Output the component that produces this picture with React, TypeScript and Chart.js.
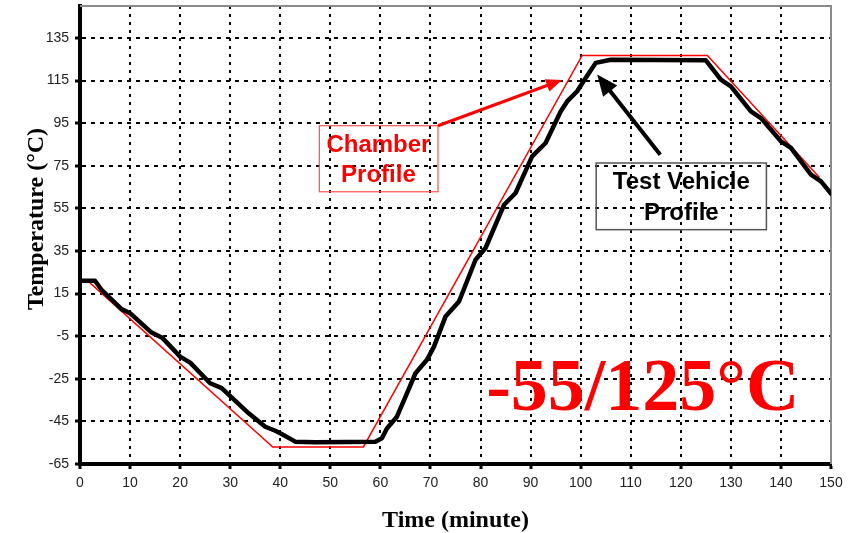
import React, { useEffect, useRef } from 'react';
import { Chart, registerables } from 'chart.js';

Chart.register(...registerables);

// ---- data ----
const xTickValues = [0, 10, 20, 30, 40, 50, 60, 70, 80, 90, 100, 110, 120, 130, 140, 150];
const yTickValues = [-65, -45, -25, -5, 15, 35, 55, 75, 95, 115, 135];

const chamberTime = [2, 38.5, 56.6, 100.3, 125.3, 147.7];
const chamberTemp = [20, -57, -57, 126.8, 126.8, 69.5];

const vehicleTime = [
  0, 3, 4.3, 8.3, 10, 14.3, 16.5, 20, 22, 26, 28.3, 33.7, 37, 39, 40, 43, 47, 59, 60.3, 61.3,
  63.3, 65.3, 67, 69.3, 70.7, 73, 75.7, 79, 81, 84.7, 87, 90.3, 93, 96, 97.3, 99.3, 101, 103,
  106, 115, 125, 128, 130, 134, 136, 140, 142, 146, 148, 150,
];
const vehicleTemp = [
  21, 21, 16.8, 7.7, 5.8, -3.3, -5.9, -14.6, -17.4, -27.1, -29.4, -41.2, -47.5, -49.4, -50.6,
  -54.5, -54.8, -54.5, -52.9, -48.3, -42.8, -31.8, -22.4, -16.1, -9.9, 4.2, 11.3, 30.9, 36.4,
  56.7, 62.2, 79.4, 85.7, 100.5, 105.2, 110, 116.2, 123.3, 124.8, 124.6, 124.5, 115.4, 112.3,
  100.5, 97.4, 86.5, 83.4, 70.8, 67.7, 62,
];

const xTitle = 'Time (minute)';
const yTitle = 'Temperature (°C)';
const cycleLabel = '-55/125°C';
const chamberLabel = ['Chamber', 'Profile'];
const vehicleLabel = ['Test Vehicle', 'Profile'];

const SANS = "'Liberation Sans', Arial, sans-serif";
const SERIF = "'Liberation Serif', 'Times New Roman', serif";

function drawArrow(
  ctx: CanvasRenderingContext2D,
  x1: number, y1: number, x2: number, y2: number,
  color: string, width: number, headLen: number, headW: number,
) {
  const ang = Math.atan2(y2 - y1, x2 - x1);
  const bx = x2 - headLen * Math.cos(ang);
  const by = y2 - headLen * Math.sin(ang);
  ctx.save();
  ctx.strokeStyle = color;
  ctx.lineWidth = width;
  ctx.beginPath();
  ctx.moveTo(x1, y1);
  ctx.lineTo(bx + 2 * Math.cos(ang), by + 2 * Math.sin(ang));
  ctx.stroke();
  ctx.fillStyle = color;
  ctx.beginPath();
  ctx.moveTo(x2, y2);
  ctx.lineTo(bx + (headW / 2) * Math.sin(ang), by - (headW / 2) * Math.cos(ang));
  ctx.lineTo(bx - (headW / 2) * Math.sin(ang), by + (headW / 2) * Math.cos(ang));
  ctx.closePath();
  ctx.fill();
  ctx.restore();
}

const framePlugin = {
  id: 'frame',
  beforeDatasetsDraw(chart: any) {
    const { ctx, chartArea } = chart;
    ctx.save();
    ctx.strokeStyle = '#8a8a8a';
    ctx.lineWidth = 2;
    ctx.beginPath();
    ctx.moveTo(chartArea.left, chartArea.top);
    ctx.lineTo(chartArea.right, chartArea.top);
    ctx.lineTo(chartArea.right, chartArea.bottom);
    ctx.stroke();
    ctx.restore();
  },
};

const annotationPlugin = {
  id: 'annotations',
  afterDraw(chart: any) {
    const { ctx, chartArea } = chart;
    const xs = chart.scales.x;
    const ys = chart.scales.y;
    const px = (v: number) => xs.getPixelForValue(v);
    const py = (v: number) => ys.getPixelForValue(v);

    ctx.save();
    // Chamber profile box
    ctx.strokeStyle = '#ff5050';
    ctx.lineWidth = 1.2;
    ctx.strokeRect(px(47.8), py(93.8), px(71.5) - px(47.8), py(62.8) - py(93.8));
    ctx.fillStyle = '#ff0000';
    ctx.font = `bold 24px ${SANS}`;
    ctx.textAlign = 'center';
    ctx.textBaseline = 'alphabetic';
    ctx.fillText(chamberLabel[0], px(59.6), py(81.6));
    ctx.fillText(chamberLabel[1], px(59.6), py(67.2));
    drawArrow(ctx, px(71.5), py(93.8), px(96.3), py(115.3), '#ff0000', 3, 16, 13);

    // Test vehicle box
    ctx.strokeStyle = '#555555';
    ctx.lineWidth = 1.5;
    ctx.strokeRect(px(103.1), py(76.3), px(137.1) - px(103.1), py(45) - py(76.3));
    ctx.fillStyle = '#000000';
    ctx.font = `bold 24px ${SANS}`;
    ctx.fillText(vehicleLabel[0], px(120.1), py(64.1));
    ctx.fillText(vehicleLabel[1], px(120.1), py(49.7));
    drawArrow(ctx, px(115.9), py(80.2), px(103.3), py(117.8), '#000000', 4, 21, 18);

    // Big cycle label
    ctx.fillStyle = '#ff0000';
    ctx.font = `bold 74px ${SERIF}`;
    ctx.fillText(cycleLabel, px(112.4), py(-39.6));

    // Axis titles
    ctx.fillStyle = '#000000';
    ctx.font = `bold 24px ${SERIF}`;
    ctx.fillText(xTitle, (chartArea.left + chartArea.right) / 2, chart.height - 6);
    ctx.translate(43, 219);
    ctx.rotate(-Math.PI / 2);
    ctx.fillText(yTitle, 0, 0);
    ctx.restore();
  },
};

export default function App() {
  const canvasRef = useRef<HTMLCanvasElement | null>(null);

  useEffect(() => {
    if (!canvasRef.current) return;
    const chart = new Chart(canvasRef.current, {
      type: 'line',
      data: {
        datasets: [
          {
            label: 'Test Vehicle Profile',
            data: vehicleTime.map((t, i) => ({ x: t, y: vehicleTemp[i] })),
            borderColor: '#000000',
            borderWidth: 4.5,
            pointRadius: 0,
            tension: 0,
            borderJoinStyle: 'round',
            borderCapStyle: 'round',
            fill: false,
          },
          {
            label: 'Chamber Profile',
            data: chamberTime.map((t, i) => ({ x: t, y: chamberTemp[i] })),
            borderColor: '#ff0000',
            borderWidth: 1.5,
            pointRadius: 0,
            tension: 0,
            fill: false,
          },
        ],
      },
      options: {
        animation: false,
        responsive: false,
        events: [],
        layout: { padding: { top: 6, right: 26, left: 0, bottom: 0 } },
        plugins: {
          legend: { display: false },
          tooltip: { enabled: false },
          title: { display: false },
        },
        scales: {
          x: {
            type: 'linear',
            min: 0,
            max: 150,
            afterBuildTicks: (s: any) => {
              s.ticks = xTickValues.map((v) => ({ value: v }));
            },
            afterFit: (s: any) => {
              s.height = 69;
              s.paddingLeft = 0;
              s.paddingRight = 0;
            },
            ticks: {
              autoSkip: false,
              maxRotation: 0,
              padding: 6,
              color: '#222222',
              font: { family: SANS, size: 14 },
            },
            grid: {
              color: '#000000',
              lineWidth: 2,
              tickLength: 5,
              tickWidth: 3,
              tickColor: '#000000',
            },
            border: { display: true, color: '#000000', width: 4, dash: [3, 5] },
          },
          y: {
            type: 'linear',
            min: -65,
            max: 150,
            afterBuildTicks: (s: any) => {
              s.ticks = yTickValues.map((v) => ({ value: v }));
            },
            afterFit: (s: any) => {
              s.width = 80;
              s.paddingTop = 0;
              s.paddingBottom = 0;
            },
            ticks: {
              autoSkip: false,
              padding: 6,
              color: '#222222',
              font: { family: SANS, size: 14 },
            },
            grid: {
              color: '#000000',
              lineWidth: 2,
              tickLength: 5,
              tickWidth: 3,
              tickColor: '#000000',
            },
            border: { display: true, color: '#000000', width: 4, dash: [4, 5] },
          },
        },
      },
      plugins: [framePlugin, annotationPlugin],
    } as any);
    return () => chart.destroy();
  }, []);

  return (
    <div style={{ position: 'absolute', left: 0, top: 0, width: 857, height: 533, background: '#ffffff' }}>
      <canvas ref={canvasRef} width={857} height={533} />
    </div>
  );
}
